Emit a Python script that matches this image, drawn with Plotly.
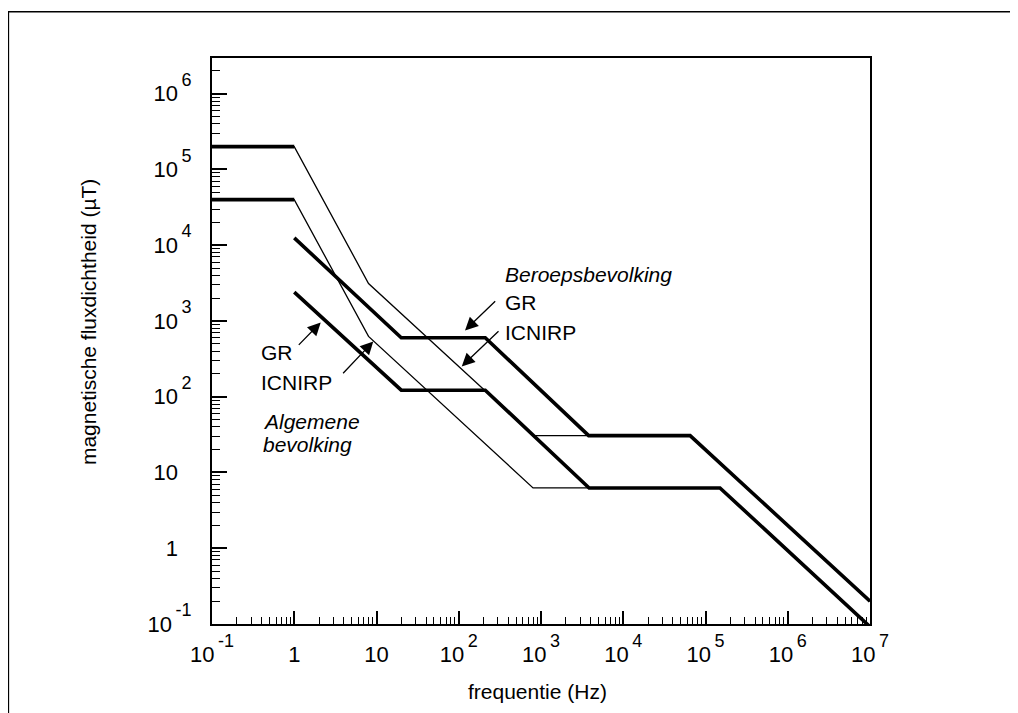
import plotly.graph_objects as go

# ---------------- data ----------------
# ICNIRP reference levels (thin lines)
icnirp_beroeps_f = [0.1, 1, 8, 820, 65000, 1e7]
icnirp_beroeps_B = [2e5, 2e5, 3125, 30.7, 30.7, 0.2]
icnirp_algemeen_f = [0.1, 1, 8, 800, 150000, 1e7]
icnirp_algemeen_B = [4e4, 4e4, 625, 6.25, 6.25, 0.092]

# Gezondheidsraad (GR) advice (thick lines); None = gap
gr_beroeps_f = [0.1, 1, None, 1, 20, 210, 3800, 65000, 1e7]
gr_beroeps_B = [2e5, 2e5, None, 12500, 600, 600, 30.7, 30.7, 0.2]
gr_algemeen_f = [0.1, 1, None, 1, 20, 210, 3850, 150000, 1e7]
gr_algemeen_B = [4e4, 4e4, None, 2400, 122, 122, 6.25, 6.25, 0.092]

x_tickvals = [0.1, 1, 10, 1e2, 1e3, 1e4, 1e5, 1e6, 1e7]
x_tick_base = ["10", "1", "10", "10", "10", "10", "10", "10", "10"]
x_tick_exp = ["-1", "", "", "2", "3", "4", "5", "6", "7"]
y_tickvals = [0.1, 1, 10, 1e2, 1e3, 1e4, 1e5, 1e6]
y_tick_base = ["10", "1", "10", "10", "10", "10", "10", "10"]
y_tick_exp = ["-1", "", "", "2", "3", "4", "5", "6"]

x_title = "frequentie (Hz)"
y_title = "magnetische fluxdichtheid (µT)"

FONT = "Liberation Sans, Arial, Helvetica, sans-serif"
THIN = 1.3
THICK = 3.6


def tick_label(base, exp, pad_invisible):
    if exp:
        return (f"{base}<span style='font-size:37px'><sup>"
                f"<span style='font-size:18px'>\u2009{exp}</span></sup></span>")
    if pad_invisible:
        return (f"{base}<span style='font-size:37px'><sup>"
                f"<span style='font-size:18px;color:rgba(0,0,0,0)'>\u20090</span></sup></span>")
    return base


x_ticktext = [tick_label(b, e, False) for b, e in zip(x_tick_base, x_tick_exp)]
y_ticktext = [tick_label(b, e, True) for b, e in zip(y_tick_base, y_tick_exp)]

fig = go.Figure()
for f, b in [(icnirp_beroeps_f, icnirp_beroeps_B), (icnirp_algemeen_f, icnirp_algemeen_B)]:
    fig.add_trace(go.Scatter(x=f, y=b, mode="lines", line=dict(color="black", width=THIN),
                             showlegend=False, hoverinfo="skip"))
for f, b in [(gr_beroeps_f, gr_beroeps_B), (gr_algemeen_f, gr_algemeen_B)]:
    fig.add_trace(go.Scatter(x=f, y=b, mode="lines", connectgaps=False,
                             line=dict(color="black", width=THICK),
                             showlegend=False, hoverinfo="skip"))

axis_common = dict(type="log", showline=True, linewidth=2, linecolor="black", mirror=True,
                   showgrid=False, zeroline=False, ticks="inside", tickwidth=1.5,
                   tickcolor="black", tickmode="array",
                   tickfont=dict(family=FONT, size=22, color="black"))

fig.update_xaxes(range=[-1, 7], tickvals=x_tickvals, ticktext=x_ticktext, ticklen=13,
                 ticklabelstandoff=10,
                 minor=dict(ticks="inside", ticklen=7, tickwidth=1.3, tickcolor="black",
                            dtick="D1", showgrid=False),
                 **axis_common)
fig.update_yaxes(range=[-1, 6.471], tickvals=y_tickvals, ticktext=y_ticktext, ticklen=15,
                 ticklabelstandoff=14,
                 minor=dict(ticks="inside", ticklen=8, tickwidth=1.3, tickcolor="black",
                            dtick="D1", showgrid=False),
                 **axis_common)

ann_font = dict(family=FONT, size=21, color="black")
texts = [
    ("<i>Beroepsbevolking</i>", 2.552, 3.611),
    ("GR", 2.552, 3.241),
    ("ICNIRP", 2.552, 2.845),
    ("GR", -0.413, 2.581),
    ("ICNIRP", -0.413, 2.185),
    ("<i>Algemene</i>", -0.389, 1.668),
    ("<i>bevolking</i>", -0.389, 1.364),
]
for t, x, y in texts:
    fig.add_annotation(text=t, x=x, y=y, xref="x", yref="y", xanchor="left", yanchor="middle",
                       showarrow=False, font=ann_font, borderpad=0)

arrows = [
    (2.076, 2.875, 31.7, -30.7),
    (2.036, 2.400, 38.3, -36.7),
    (0.322, 2.981, -23.4, 24.0),
    (0.961, 2.730, -31.6, 33.3),
]
for x, y, ax, ay in arrows:
    fig.add_annotation(text="", x=x, y=y, xref="x", yref="y", ax=ax, ay=ay,
                       showarrow=True, arrowhead=2, arrowsize=2.0, arrowwidth=1.3,
                       arrowcolor="black", standoff=0)

fig.add_annotation(text=x_title, x=(537 - 211.7) / 658.3, y=(624.3 - 691.7) / 566,
                   xref="paper", yref="paper", showarrow=False, font=ann_font,
                   xanchor="center", yanchor="middle")
fig.add_annotation(text=y_title, x=(88 - 211.7) / 658.3, y=(624.3 - 322) / 566,
                   xref="paper", yref="paper", showarrow=False, font=ann_font,
                   textangle=-90, xanchor="center", yanchor="middle")

# outer frame (only left and top edges visible)
fig.add_shape(type="rect", xref="paper", yref="paper",
              x0=(8 - 211.7) / 658.3, x1=(1040 - 211.7) / 658.3,
              y0=(624.3 - 740) / 566, y1=(624.3 - 12) / 566,
              line=dict(color="black", width=1.5), fillcolor="rgba(0,0,0,0)")

# page body has an 8px default margin, so shift the figure margins accordingly
fig.update_layout(width=1018, height=713,
                  margin=dict(l=204, r=156, t=50, b=97, pad=0),
                  paper_bgcolor="white", plot_bgcolor="white",
                  font=dict(family=FONT, size=21, color="black"),
                  showlegend=False)

fig.write_html("out.html")
